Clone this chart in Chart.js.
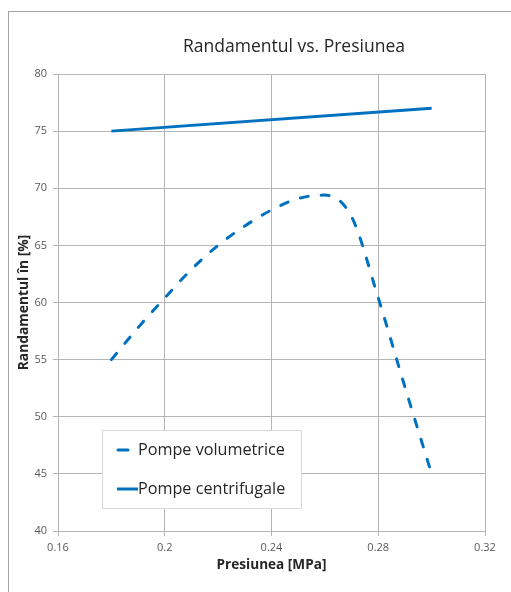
<!DOCTYPE html>
<html>
<head>
<meta charset="utf-8">
<script src="https://cdn.jsdelivr.net/npm/chart.js@4.4.1/dist/chart.umd.min.js"></script>
<style>
  html, body { margin: 0; padding: 0; background: #fff; overflow: hidden; width: 511px; height: 592px; }
  #frame { position: absolute; left: 8px; top: 11px; width: 570px; height: 600px; border: 1px solid #a3a3a3; background: #fff; }
  canvas { display: block; }
</style>
</head>
<body>
<div id="frame"><canvas id="c" width="570" height="600"></canvas></div>
<script>
// Pressure (MPa) and efficiency (%) for the two pump types
const pressureVolumetric = [0.18, 0.19, 0.20, 0.21, 0.22, 0.23, 0.24, 0.25, 0.26, 0.27, 0.28, 0.29, 0.30];
const efficiencyVolumetric = [55, 57.8, 60.4, 62.9, 65.0, 66.7, 68.1, 69.1, 69.4, 67.5, 60.4, 52.6, 45];
const pressureCentrifugal = [0.18, 0.30];
const efficiencyCentrifugal = [75, 77];
const xTicks = [0.16, 0.2, 0.24, 0.28, 0.32];
const yTicks = [40, 45, 50, 55, 60, 65, 70, 75, 80];
const seriesNames = ['Pompe volumetrice', 'Pompe centrifugale'];

const BLUE = '#0070c0';
const GRID = '#b5b5b5';
const FONT = '"Open Sans", "Noto Sans", sans-serif';

const toPoints = (xs, ys) => xs.map((x, i) => ({ x: x, y: ys[i] }));

// Legend box drawn inside the plot area, lower left
const insideLegend = {
  id: 'insideLegend',
  afterDraw(chart) {
    const ctx = chart.ctx;
    const area = chart.chartArea;
    const left = area.left + 44, top = area.bottom - 101;
    const w = 199, h = 78;
    ctx.save();
    ctx.fillStyle = '#fff';
    ctx.fillRect(left, top, w, h);
    ctx.strokeStyle = '#d9d9d9';
    ctx.lineWidth = 1;
    ctx.strokeRect(left + 0.5, top + 0.5, w, h);
    ctx.font = '16.2px ' + FONT;
    ctx.textBaseline = 'middle';
    chart.data.datasets.forEach((ds, i) => {
      const y = top + 20 + i * 39;
      ctx.strokeStyle = ds.borderColor;
      ctx.lineWidth = 3;
      ctx.lineCap = ds.borderDash ? 'round' : 'butt';
      ctx.beginPath();
      if (ds.borderDash) { ctx.moveTo(left + 16, y); ctx.lineTo(left + 26, y); }
      else { ctx.moveTo(left + 15, y); ctx.lineTo(left + 36, y); }
      ctx.stroke();
      ctx.fillStyle = '#262626';
      ctx.fillText(ds.label, left + 36, y);
    });
    ctx.restore();
  }
};

new Chart(document.getElementById('c'), {
  type: 'scatter',
  data: {
    datasets: [
      {
        label: seriesNames[0],
        data: toPoints(pressureVolumetric, efficiencyVolumetric),
        showLine: true,
        borderColor: BLUE,
        borderWidth: 3,
        borderDash: [8, 13],
        borderCapStyle: 'round',
        cubicInterpolationMode: 'monotone',
        pointRadius: 0,
        pointHoverRadius: 0
      },
      {
        label: seriesNames[1],
        data: toPoints(pressureCentrifugal, efficiencyCentrifugal),
        showLine: true,
        borderColor: BLUE,
        borderWidth: 3,
        pointRadius: 0,
        pointHoverRadius: 0
      }
    ]
  },
  options: {
    responsive: false,
    animation: false,
    layout: { padding: { left: 0, right: 0, top: 0, bottom: 36 } },
    plugins: {
      legend: { display: false },
      tooltip: { enabled: false },
      title: {
        display: true,
        text: 'Randamentul vs. Presiunea',
        color: '#262626',
        font: { family: FONT, size: 17.5, weight: 'normal' },
        padding: { top: 25, bottom: 16 }
      }
    },
    scales: {
      x: {
        type: 'linear',
        min: xTicks[0],
        max: xTicks[xTicks.length - 1],
        afterBuildTicks: s => { s.ticks = xTicks.map(v => ({ value: v })); },
        afterFit: s => { s.height = 45; },
        ticks: {
          color: '#595959',
          font: { family: FONT, size: 11 },
          padding: 5,
          maxRotation: 0,
          callback: v => String(v)
        },
        grid: { color: GRID, lineWidth: 1, tickLength: 5 },
        border: { color: GRID },
        title: {
          display: true,
          text: 'Presiunea [MPa]',
          color: '#262626',
          font: { family: FONT, size: 13.6, weight: 'bold' },
          padding: { top: 0, bottom: 3 }
        }
      },
      y: {
        min: yTicks[0],
        max: yTicks[yTicks.length - 1],
        afterBuildTicks: s => { s.ticks = yTicks.map(v => ({ value: v })); },
        afterFit: s => { s.width = 49; },
        ticks: {
          color: '#595959',
          font: { family: FONT, size: 11 },
          padding: 6
        },
        grid: { color: GRID, lineWidth: 1, tickLength: 5 },
        border: { color: GRID },
        title: {
          display: true,
          text: 'Randamentul în [%]',
          color: '#262626',
          font: { family: FONT, size: 13.8, weight: 'bold' },
          padding: { top: 7, bottom: 0 }
        }
      },
      // empty right-hand margin so the chart title stays centred on the frame
      yRight: {
        type: 'linear',
        position: 'right',
        display: true,
        afterFit: s => { s.width = 94; },
        ticks: { display: false },
        grid: { display: false, drawTicks: false },
        border: { display: false }
      }
    }
  },
  plugins: [insideLegend]
});
</script>
</body>
</html>
